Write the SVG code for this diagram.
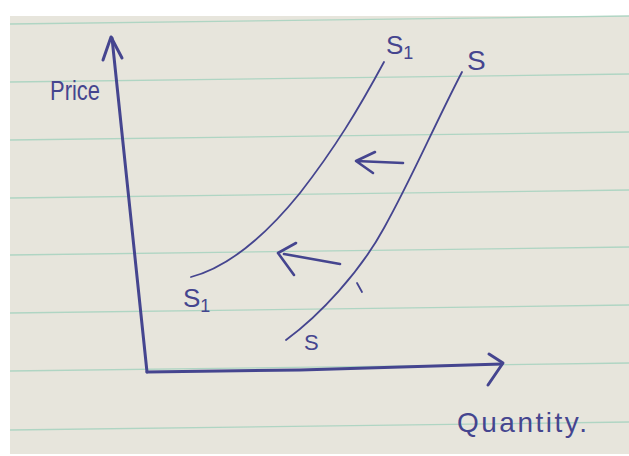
<svg xmlns="http://www.w3.org/2000/svg" width="629" height="456" viewBox="0 0 629 456">
<defs>
<style>
.rule{stroke:#afd5c3;stroke-width:1.3;fill:none}
.ink{stroke:#45458f;fill:none;stroke-linecap:round;stroke-linejoin:round}
.axis{stroke-width:3}
.curve{stroke-width:1.8}
.arr{stroke-width:2.6}
.lbl{fill:#45458f;font-family:"Liberation Sans",Arial,sans-serif}
</style>
</defs>
<rect x="0" y="0" width="629" height="456" fill="#ffffff"/>
<rect x="10" y="16" width="619" height="438" fill="#e7e5dc"/>
<g id="rules">
<line class="rule" x1="10" y1="24" x2="629" y2="16"/>
<line class="rule" x1="10" y1="82" x2="629" y2="74"/>
<line class="rule" x1="10" y1="140" x2="629" y2="132"/>
<line class="rule" x1="10" y1="198" x2="629" y2="190"/>
<line class="rule" x1="10" y1="255" x2="629" y2="247"/>
<line class="rule" x1="10" y1="313" x2="629" y2="305"/>
<line class="rule" x1="10" y1="371" x2="629" y2="363"/>
<line class="rule" x1="10" y1="430" x2="629" y2="422"/>
</g>
<g id="axes">
<path class="ink axis" d="M112 38 L147 372"/>
<path class="ink axis" d="M103 60 L111 37 L122 58"/>
<path class="ink axis" d="M147 372 L300 370 L502 364"/>
<path class="ink axis" d="M489 354 L503 363 L488 385"/>
</g>
<g id="connectors">
<path class="ink curve" d="M191 277 C225 268 262 240 300 193 C335 148 358 110 384 62"/>
<path class="ink curve" d="M286 340 C320 315 360 272 384 228 C412 178 432 130 462 72"/>
<path class="ink arr" d="M403 163 L356 161 M375 152 L356 161 L373 173"/>
<path class="ink arr" d="M340 264 L284 254 M296 243 L278 253 L294 275"/>
<path class="ink curve" d="M357 283 L362 292"/>
</g>
<g id="label-price"><text class="lbl" x="50" y="100" font-size="27" textLength="50" lengthAdjust="spacingAndGlyphs">Price</text></g>
<g id="label-quantity"><text class="lbl" x="457" y="432" font-size="28" textLength="130">Quantity.</text></g>
<g id="label-s1-top"><text class="lbl" x="386" y="54" font-size="26">S<tspan font-size="18" dy="5">1</tspan></text></g>
<g id="label-s1-bottom"><text class="lbl" x="183" y="307" font-size="26">S<tspan font-size="18" dy="5">1</tspan></text></g>
<g id="label-s-top"><text class="lbl" x="467" y="70" font-size="28">S</text></g>
<g id="label-s-bottom"><text class="lbl" x="304" y="350" font-size="22">S</text></g>
</svg>
